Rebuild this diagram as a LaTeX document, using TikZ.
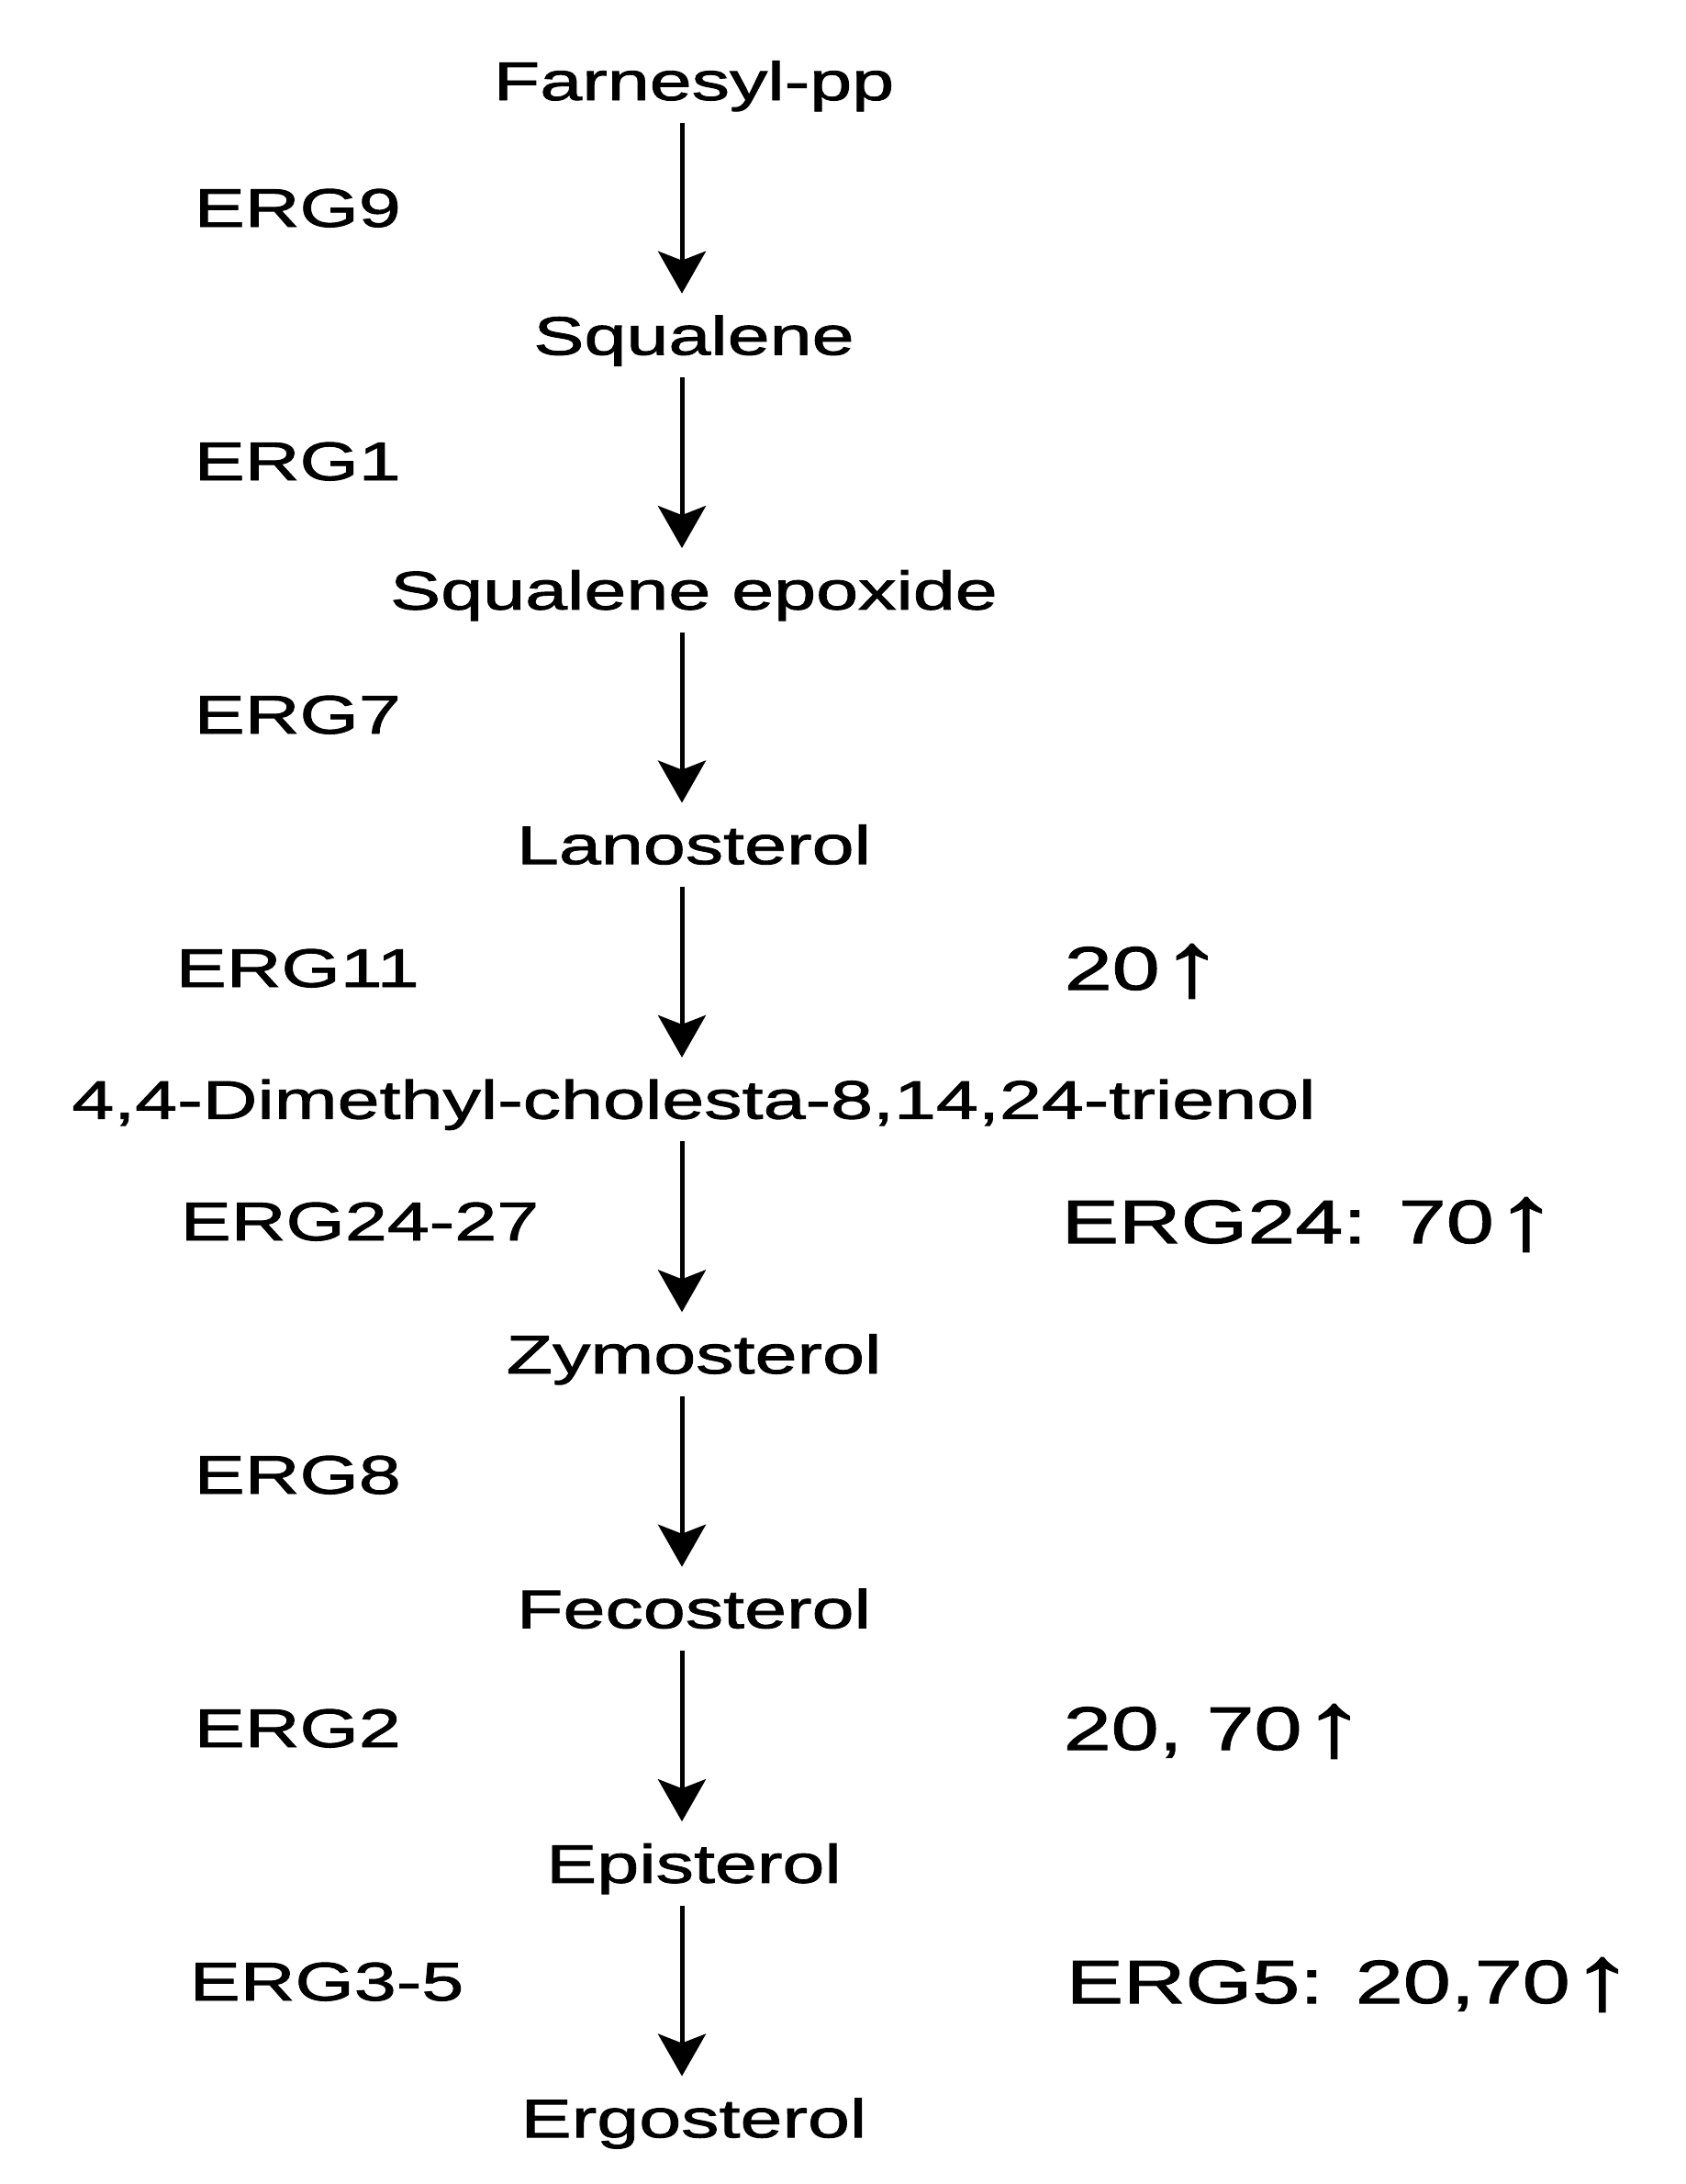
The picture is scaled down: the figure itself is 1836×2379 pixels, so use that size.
\documentclass[tikz,border=0pt]{standalone}
\usepackage{fontspec}
\setmainfont{Liberation Sans}[FakeStretch=1.4,FakeBold=1.5]
\usetikzlibrary{positioning,arrows.meta}
\newcommand{\upfold}{\raisebox{-0.1em}{\scalebox{1.5}[1.5]{↑}}}
\tikzset{
  metab/.style={inner sep=0pt,text height=4.2mm,text depth=0pt,font=\fontsize{16.8}{20}\selectfont},
  gene/.style={metab,anchor=west},
  fold/.style={inner sep=0pt,anchor=west,text height=4.8mm,text depth=0pt,font=\fontsize{19}{23}\selectfont},
  conv/.style={-{Stealth[length=4.6mm,width=5.2mm,inset=1mm]},line width=0.5mm,shorten >=2.4mm,shorten <=2.4mm}
}

\begin{document}
\begin{tikzpicture}[x=0.1mm,y=-0.1mm,node distance=23.4mm]
    \useasboundingbox (0,0) rectangle (1836,2379);

          % pathway
          \node[metab] (fpp) at (756,88)    {Farnesyl-pp};
          \node[metab] (sq)  [below=of fpp] {Squalene};
          \node[metab] (sqe) [below=of sq]  {Squalene epoxide};
          \node[metab] (lan) [below=of sqe] {Lanosterol};
          \node[metab] (dmc) [below=of lan] {4,4-Dimethyl-cholesta-8,14,24-trienol};
          \node[metab] (zym) [below=of dmc] {Zymosterol};
          \node[metab] (fec) [below=of zym] {Fecosterol};
          \node[metab] (epi) [below=of fec] {Episterol};
          \node[metab] (erg) [below=of epi] {Ergosterol};

          \path[conv] ([xshift=-1.3mm]fpp.south) edge ([xshift=-1.3mm]sq.north)
                      ([xshift=-1.3mm]sq.south)  edge ([xshift=-1.3mm]sqe.north)
                      ([xshift=-1.3mm]sqe.south) edge ([xshift=-1.3mm]lan.north)
                      ([xshift=-1.3mm]lan.south) edge ([xshift=-1.3mm]dmc.north)
                      ([xshift=-1.3mm]dmc.south) edge ([xshift=-1.3mm]zym.north)
                      ([xshift=-1.3mm]zym.south) edge ([xshift=-1.3mm]fec.north)
                      ([xshift=-1.3mm]fec.south) edge ([xshift=-1.3mm]epi.north)
                      ([xshift=-1.3mm]epi.south) edge ([xshift=-1.3mm]erg.north);

          % enzymes
          \node[gene] (erg9)  at (211,226)  {ERG9};
          \node[gene] (erg1)  at (211,502)  {ERG1};
          \node[gene] (erg7)  at (211,778)  {ERG7};
          \node[gene] (erg11) at (191,1054) {ERG11};
          \node[gene] (erg24) at (196,1330) {ERG24-27};
          \node[gene] (erg8)  at (211,1606) {ERG8};
          \node[gene] (erg2)  at (211,1882) {ERG2};
          \node[gene] (erg35) at (206,2158) {ERG3-5};

          % fold changes
          \node[fold] (up11) at (1159,1054) {20\upfold};
          \node[fold] (up24) at (1156,1330) {ERG24: 70\upfold};
          \node[fold] (up2)  at (1158,1882) {20, 70\upfold};
          \node[fold] (up5)  at (1161,2158) {ERG5: 20,70\upfold};
        \end{tikzpicture}
\end{document}
